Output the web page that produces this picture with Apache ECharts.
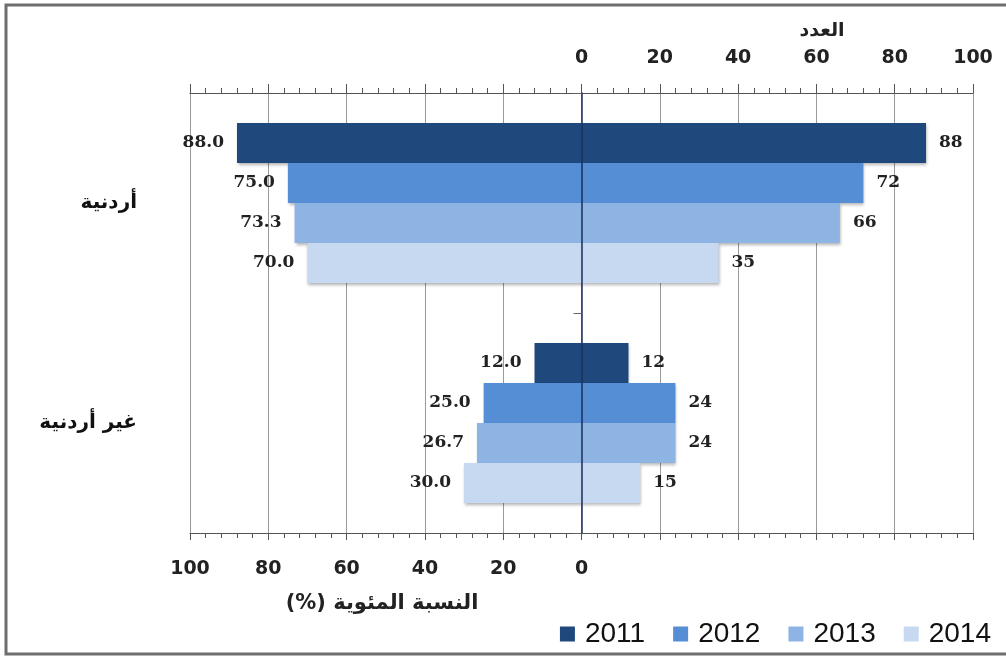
<!DOCTYPE html>
<html>
<head>
<meta charset="utf-8">
<script src="https://cdn.jsdelivr.net/npm/echarts@6/dist/echarts.min.js"></script>
<style>
html,body{margin:0;padding:0;background:#fff;}
#chart{width:1006px;height:657px;}
</style>
</head>
<body>
<div id="chart"></div>
<script>
const categories = ['أردنية', 'غير أردنية'];
const years = ['2011', '2012', '2013', '2014'];
const pct2011 = [88.0, 12.0];
const pct2012 = [75.0, 25.0];
const pct2013 = [73.3, 26.7];
const pct2014 = [70.0, 30.0];
const cnt2011 = [88, 12];
const cnt2012 = [72, 24];
const cnt2013 = [66, 24];
const cnt2014 = [35, 15];
const tickValues = [0, 20, 40, 60, 80, 100];
const colors = ['#1f497d', '#558ed5', '#8eb4e3', '#c6d9f1'];
const topAxisName = 'العدد';
const bottomAxisName = '(%) النسبة المئوية';

const pctSets = [pct2011, pct2012, pct2013, pct2014];
const cntSets = [cnt2011, cnt2012, cnt2013, cnt2014];

const labelFont = {fontFamily: 'DejaVu Serif', fontWeight: 'bold', fontSize: 17, color: '#222'};
const shadow = {shadowColor: 'rgba(0,0,0,0.3)', shadowBlur: 3, shadowOffsetX: 1, shadowOffsetY: 2};

const series = [];
years.forEach((y, i) => {
  series.push({
    name: y, type: 'bar', stack: 's' + y, barWidth: 40, barGap: '0%',
    xAxisIndex: 0, yAxisIndex: 0,
    itemStyle: Object.assign({color: colors[i]}, shadow),
    label: Object.assign({show: true, position: 'left', distance: 13,
      formatter: p => Math.abs(p.value).toFixed(1)}, labelFont),
    data: pctSets[i].map(v => -v)
  });
  series.push({
    name: y, type: 'bar', stack: 's' + y, barWidth: 40, barGap: '0%',
    xAxisIndex: 0, yAxisIndex: 0,
    itemStyle: Object.assign({color: colors[i]}, shadow),
    label: Object.assign({show: true, position: 'right', distance: 13,
      formatter: p => String(p.value)}, labelFont),
    data: cntSets[i].slice()
  });
});

const axisLabelFont = {fontFamily: 'DejaVu Sans', fontWeight: 'bold', fontSize: 19, color: '#222'};

const chart = echarts.init(document.getElementById('chart'), null, {renderer: 'canvas'});
chart.setOption({
  animation: false,
  backgroundColor: '#fff',
  color: colors,
  grid: {left: 190, right: 33, top: 93, bottom: 124, containLabel: false},
  title: [
    {text: topAxisName, left: 817, top: 17, textAlign: 'center',
      textStyle: {fontFamily: 'DejaVu Sans', fontWeight: 'bold', fontSize: 19, color: '#222'}},
    {text: bottomAxisName, left: 377, top: 588, textAlign: 'center',
      textStyle: {fontFamily: 'DejaVu Sans', fontWeight: 'bold', fontSize: 21, color: '#222'}}
  ],
  legend: {
    data: years, right: 10, top: 615, icon: 'rect', itemWidth: 15, itemHeight: 15, itemGap: 28,
    textStyle: {fontFamily: 'Liberation Sans', fontSize: 28, color: '#111', padding: [0, 0, 0, 5]}
  },
  xAxis: [
    {
      type: 'value', position: 'bottom', min: -100, max: 100, interval: 20,
      axisLine: {show: true, onZero: false, lineStyle: {color: '#555', width: 1}},
      axisTick: {show: true, length: 7, lineStyle: {color: '#555'}},
      minorTick: {show: true, splitNumber: 5, length: 5, lineStyle: {color: '#555'}},
      splitLine: {show: true, lineStyle: {color: '#9a9a9a', width: 1}},
      axisLabel: Object.assign({margin: 27,
        formatter: v => (v <= 0 && tickValues.indexOf(-v) >= 0) ? String(-v) : ''}, axisLabelFont)
    },
    {
      type: 'value', position: 'top', min: -100, max: 100, interval: 20,
      axisLine: {show: true, onZero: false, lineStyle: {color: '#555', width: 1}},
      axisTick: {show: true, length: 9, lineStyle: {color: '#555'}},
      minorTick: {show: true, splitNumber: 5, length: 5, lineStyle: {color: '#555'}},
      splitLine: {show: false},
      axisLabel: Object.assign({margin: 25,
        formatter: v => (v >= 0 && tickValues.indexOf(v) >= 0) ? String(v) : ''}, axisLabelFont)
    }
  ],
  yAxis: [
    {
      type: 'category', data: categories, inverse: true, position: 'left',
      axisLine: {show: false, onZero: false},
      axisTick: {show: false},
      axisLabel: {margin: 53, fontFamily: 'DejaVu Sans', fontWeight: 'bold', fontSize: 20, color: '#111'}
    },
    {
      type: 'category', data: categories, inverse: true, position: 'left', z: 10,
      axisLine: {show: true, onZero: true, lineStyle: {color: '#1c2f5c', width: 1.5}},
      axisTick: {show: true, length: 8, lineStyle: {color: '#666'}},
      axisLabel: {show: false}
    }
  ],
  graphic: [
    {type: 'rect', shape: {x: 6, y: 5, width: 1100, height: 649}, silent: true, z: 100,
      style: {fill: 'none', stroke: '#6e6e6e', lineWidth: 3}}
  ],
  series: series
});
</script>
</body>
</html>
